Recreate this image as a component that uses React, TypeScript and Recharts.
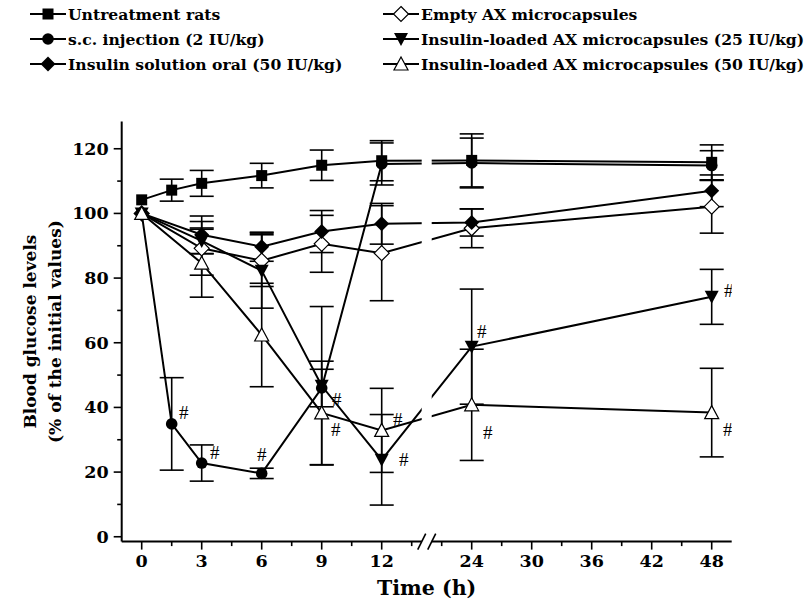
import React from "react";
import {
  LineChart,
  Line,
  XAxis,
  YAxis,
  ErrorBar,
  ReferenceArea,
  Label,
} from "recharts";

// sampling times (h)
const hours = [0, 1.5, 3, 6, 9, 12, 24, 48];

// blood glucose, % of initial value (mean and SD)
const untreated = [104.2, 107.2, 109.3, 111.7, 114.9, 116.3, 116.4, 115.8];
const untreatedSd = [null, 3.4, 4.0, 3.8, 4.7, 6.2, 8.2, 5.4];
const emptyAx = [100, null, 89.2, 85.4, 90.6, 87.7, 95.4, 102.1];
const emptyAxSd = [null, null, 8.3, 8.0, 8.8, 14.7, 6.0, 8.2];
const scInjection = [100, 34.9, 22.8, 19.6, 46.0, 115.3, 115.6, 114.8];
const scInjectionSd = [null, 14.3, 5.6, 1.6, 5.8, 6.5, 7.7, 4.6];
const loaded25 = [100, null, 91.5, 82.3, 46.7, 23.8, 58.8, 74.2];
const loaded25Sd = [null, null, 4.0, 11.6, 24.5, 14.0, 17.8, 8.5];
const oral50 = [100, null, 93.4, 89.7, 94.4, 96.8, 97.2, 107.0];
const oral50Sd = [null, null, 5.8, 4.5, 6.5, 6.3, 4.2, 4.9];
const loaded50 = [100, null, 84.6, 62.4, 38.3, 32.9, 40.8, 38.4];
const loaded50Sd = [null, null, 10.5, 16.0, 16.0, 13.0, 17.2, 13.7];

// "#" significance marks
const scInjectionSig = [0, 1, 1, 1, 0, 0, 0, 0];
const loaded25Sig = [0, 0, 0, 0, 1, 1, 1, 1];
const loaded50Sig = [0, 0, 0, 0, 1, 1, 1, 1];

const majorHours = [0, 3, 6, 9, 12, 24, 30, 36, 42, 48];
const minorHours = [1.5, 4.5, 7.5, 10.5, 13.5, 21, 27, 33, 39, 45];
const majorY = [0, 20, 40, 60, 80, 100, 120];
const minorY = [10, 30, 50, 70, 90, 110];

// broken time axis: 0-13.5 h at full scale, 21-48 h at half scale
const RIGHT_ORIGIN = 16.5;
const toPos = (h: number) => (h <= 13.5 ? h : RIGHT_ORIGIN + (h - 24) / 2);
const fromPos = (p: number) =>
  p <= 13.5 ? p : Math.round((24 + (p - RIGHT_ORIGIN) * 2) * 10) / 10;

const FONT = "'DejaVu Serif', serif";
const HASH_FONT = "'Liberation Serif', serif";

type Kind = "square" | "circle" | "diamond" | "diamondOpen" | "triDown" | "triUp";

const series = [
  { key: "untreated", name: "Untreatment rats", kind: "square", values: untreated, sd: untreatedSd, sig: null, hash: {} },
  { key: "emptyAx", name: "Empty AX microcapsules", kind: "diamondOpen", values: emptyAx, sd: emptyAxSd, sig: null, hash: {} },
  { key: "scInjection", name: "s.c. injection (2 IU/kg)", kind: "circle", values: scInjection, sd: scInjectionSd, sig: scInjectionSig,
    hash: { 1: [12, -11], 2: [13, -11], 3: [0, -19] } },
  { key: "loaded25", name: "Insulin-loaded AX microcapsules (25 IU/kg)", kind: "triDown", values: loaded25, sd: loaded25Sd, sig: loaded25Sig,
    hash: { 4: [15, 14], 5: [22, 0], 6: [10, -15], 7: [17, -6] } },
  { key: "oral50", name: "Insulin solution oral (50 IU/kg)", kind: "diamond", values: oral50, sd: oral50Sd, sig: null, hash: {} },
  { key: "loaded50", name: "Insulin-loaded AX microcapsules (50 IU/kg)", kind: "triUp", values: loaded50, sd: loaded50Sd, sig: loaded50Sig,
    hash: { 4: [14, 17], 5: [16, -11], 6: [16, 28], 7: [16, 17] } },
] as const;

const data = hours.map((h, i) => {
  const row: Record<string, number | null> = { pos: toPos(h) };
  series.forEach((s) => {
    row[s.key] = s.values[i];
    row[s.key + "Sd"] = s.sd[i];
  });
  return row;
});

function Marker({ kind, cx, cy }: { kind: Kind; cx: number; cy: number }) {
  switch (kind) {
    case "square":
      return <rect x={cx - 5.5} y={cy - 5.5} width={11} height={11} fill="#000" />;
    case "circle":
      return <circle cx={cx} cy={cy} r={5.8} fill="#000" />;
    case "diamond":
      return (
        <polygon points={`${cx},${cy - 7.5} ${cx + 7.5},${cy} ${cx},${cy + 7.5} ${cx - 7.5},${cy}`} fill="#000" />
      );
    case "diamondOpen":
      return (
        <polygon
          points={`${cx},${cy - 7.5} ${cx + 7.5},${cy} ${cx},${cy + 7.5} ${cx - 7.5},${cy}`}
          fill="#fff"
          stroke="#000"
          strokeWidth={1.2}
        />
      );
    case "triDown":
      return <polygon points={`${cx - 7},${cy - 6} ${cx + 7},${cy - 6} ${cx},${cy + 7}`} fill="#000" />;
    default:
      return (
        <polygon
          points={`${cx - 7},${cy + 6} ${cx + 7},${cy + 6} ${cx},${cy - 7}`}
          fill="#fff"
          stroke="#000"
          strokeWidth={1.2}
        />
      );
  }
}

function makeDot(s: (typeof series)[number]) {
  return (p: any) => {
    const { cx, cy, index } = p;
    if (cx == null || cy == null || s.values[index] == null) return <g key={`${s.key}-${index}`} />;
    const off = (s.hash as Record<number, number[]>)[index];
    return (
      <g key={`${s.key}-${index}`}>
        <Marker kind={s.kind as Kind} cx={cx} cy={cy} />
        {s.sig && s.sig[index] && off ? (
          <text
            x={cx + off[0]}
            y={cy + off[1]}
            textAnchor="middle"
            dominantBaseline="central"
            fontFamily={HASH_FONT}
            fontSize={19}
            fill="#000"
          >
            #
          </text>
        ) : null}
      </g>
    );
  };
}

function XTick(props: any) {
  const { x, y, payload } = props;
  const h = fromPos(payload.value);
  const major = majorHours.includes(h);
  return (
    <g>
      <line x1={x} y1={y} x2={x} y2={y + (major ? 8 : 4.5)} stroke="#000" strokeWidth={1.6} />
      {major && (
        <text x={x} y={y + 25} textAnchor="middle" fontFamily={FONT} fontWeight="bold" fontSize={17.5} fill="#000">
          {h}
        </text>
      )}
    </g>
  );
}

function YTick(props: any) {
  const { x, y, payload } = props;
  const major = majorY.includes(payload.value);
  return (
    <g>
      <line x1={x} y1={y} x2={x - (major ? 8 : 4.5)} y2={y} stroke="#000" strokeWidth={1.6} />
      {major && (
        <text x={x - 13} y={y} textAnchor="end" dominantBaseline="central" fontFamily={FONT} fontWeight="bold" fontSize={17.5} fill="#000">
          {payload.value}
        </text>
      )}
    </g>
  );
}

function YTitle(props: any) {
  const vb = props.viewBox || { x: 0, y: 0, width: 0, height: 0 };
  const cy = vb.y + vb.height / 2;
  const style = { fontFamily: FONT, fontWeight: "bold" as const, fontSize: 17, fill: "#000" };
  return (
    <g>
      <text x={30} y={cy} transform={`rotate(-90 30 ${cy})`} textAnchor="middle" dominantBaseline="central" {...style}>
        Blood glucose levels
      </text>
      <text x={55} y={cy} transform={`rotate(-90 55 ${cy})`} textAnchor="middle" dominantBaseline="central" {...style}>
        (% of the initial values)
      </text>
    </g>
  );
}

function XTitle(props: any) {
  const vb = props.viewBox || { x: 0, y: 0, width: 0, height: 0 };
  return (
    <text
      x={vb.x + vb.width / 2}
      y={vb.y + 46}
      textAnchor="middle"
      dominantBaseline="central"
      fontFamily={FONT}
      fontWeight="bold"
      fontSize={20.5}
      fill="#000"
    >
      Time (h)
    </text>
  );
}

function AxisBreak(props: any) {
  const { x, y, width, height } = props;
  const bottom = y + height;
  return (
    <g>
      <rect x={x} y={y - 5} width={width} height={height + 7} fill="#fff" />
      <line x1={x - 4} y1={bottom + 8} x2={x + 4} y2={bottom - 8} stroke="#000" strokeWidth={1.6} />
      <line x1={x + width - 4} y1={bottom + 8} x2={x + width + 4} y2={bottom - 8} stroke="#000" strokeWidth={1.6} />
    </g>
  );
}

function LegendBox() {
  const cols = [30, 383];
  const rows = [14, 39, 64];
  return (
    <svg width={809} height={80} style={{ position: "absolute", left: 0, top: 0 }}>
      {series.map((s, i) => {
        const lx = cols[i % 2];
        const ly = rows[Math.floor(i / 2)];
        return (
          <g key={s.key}>
            <line x1={lx} y1={ly} x2={lx + 36} y2={ly} stroke="#000" strokeWidth={2} />
            <Marker kind={s.kind as Kind} cx={lx + 18} cy={ly} />
            <text x={lx + 38} y={ly} dominantBaseline="central" fontFamily={FONT} fontWeight="bold" fontSize={15.6} fill="#000">
              {s.name}
            </text>
          </g>
        );
      })}
    </svg>
  );
}

const xTicks = [...majorHours, ...minorHours].map(toPos).sort((a, b) => a - b);
const yTicks = [...majorY, ...minorY].sort((a, b) => a - b);

export default function App() {
  return (
    <div style={{ position: "absolute", left: 0, top: 0, width: 809, height: 608, background: "#fff" }}>
      <LineChart width={809} height={608} data={data} margin={{ top: 121.6, right: 77.3, bottom: 0, left: 0 }}>
        <XAxis
          type="number"
          dataKey="pos"
          domain={[-1, 29.5]}
          ticks={xTicks}
          interval={0}
          tickSize={0}
          tickMargin={0}
          tickLine={false}
          tick={<XTick />}
          axisLine={{ stroke: "#000", strokeWidth: 2 }}
          height={66.4}
          allowDataOverflow
        >
          <Label content={<XTitle />} />
        </XAxis>
        <YAxis
          type="number"
          domain={[-1.5, 128.4]}
          ticks={yTicks}
          interval={0}
          tickSize={0}
          tickMargin={0}
          tickLine={false}
          tick={<YTick />}
          axisLine={{ stroke: "#000", strokeWidth: 2 }}
          width={121.7}
          allowDataOverflow
        >
          <Label content={<YTitle />} />
        </YAxis>
        {series.map((s) => (
          <Line
            key={s.key}
            dataKey={s.key}
            name={s.name}
            stroke="#000"
            strokeWidth={2}
            connectNulls
            isAnimationActive={false}
            dot={makeDot(s)}
            activeDot={false}
          >
            <ErrorBar dataKey={s.key + "Sd"} direction="y" width={12} stroke="#000" strokeWidth={1.6} />
          </Line>
        ))}
        <ReferenceArea
          x1={toPos(13.5) + 0.5}
          x2={toPos(13.5) + 1}
          shape={<AxisBreak />}
          ifOverflow="visible"
          zIndex={1000}
        />
      </LineChart>
      <LegendBox />
    </div>
  );
}
